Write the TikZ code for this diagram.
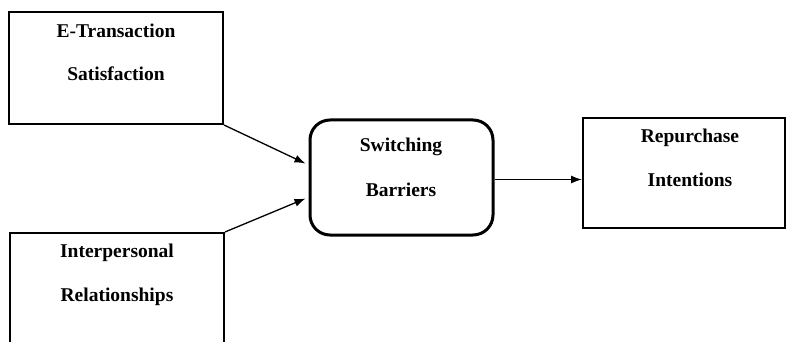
\documentclass[tikz,border=0pt]{standalone}
\usepackage{fontspec}
\setmainfont{Liberation Serif}
\usetikzlibrary{arrows.meta,calc}
\begin{document}
\begin{tikzpicture}[x=1pt,y=-1pt,
  box/.style={draw,line width=2pt,inner sep=0pt},
  lbl/.style={font=\fontsize{19.5}{22}\selectfont\bfseries,inner sep=0pt},
  conn/.style={line width=1.3pt,-{Latex[length=11pt,width=8pt]}}]
\useasboundingbox (0,0) rectangle (787,342);
\clip (0,0) rectangle (787,342);
\fill[white] (0,0) rectangle (787,342);
% boxes
\node[box,minimum width=214pt,minimum height=112pt] (et) at (116,68) {};
\node[box,minimum width=214pt,minimum height=140pt] (ip) at (117,303) {};
\node[box,line width=3pt,rounded corners=20pt,minimum width=183pt,minimum height=115pt] (sb) at (401.5,177.5) {};
\node[box,minimum width=202pt,minimum height=110pt] (rp) at (684,173) {};
% texts
\node[lbl] (t1) at (116,31) {E-Transaction};
\node[lbl] (t2) at (116,74) {Satisfaction};
\node[lbl] (t3) at (117,253) {Interpersonal};
\node[lbl] (t4) at (117,297) {Relationships};
\node[lbl] (t5) at (401,147) {Switching};
\node[lbl] (t6) at (401,190) {Barriers};
\node[lbl] (t7) at (690,138) {Repurchase};
\node[lbl] (t8) at (690,180) {Intentions};
% connectors
\coordinate (in1) at ($(sb.west)+(-3,-14)$);
\coordinate (in2) at ($(sb.west)+(-3,21)$);
\coordinate (out1) at ($(sb.east)+(0,2)$);
\draw[conn] (et.south east) -- (in1);
\draw[conn] (ip.north east) -- (in2);
\draw[conn] (out1) -- (out1 -| rp.west);
\end{tikzpicture}
\end{document}
